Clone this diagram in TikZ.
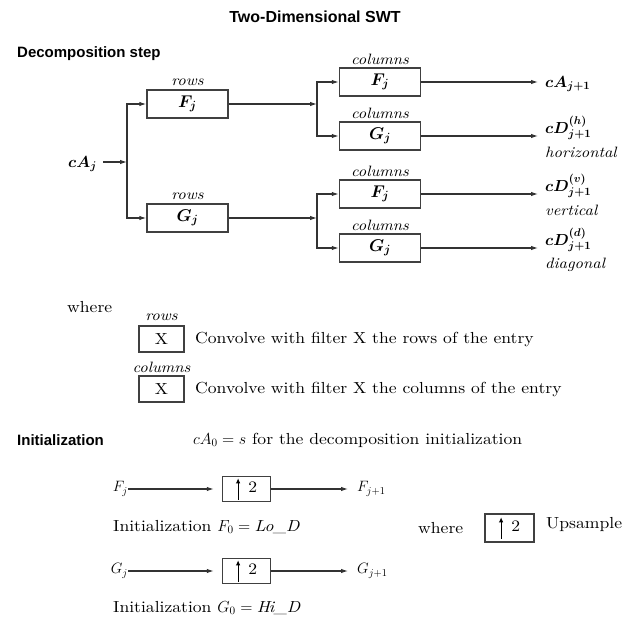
\RequirePackage{fix-cm}
\documentclass[tikz,border=0pt]{standalone}
\usepackage{amsmath,amssymb}
\usepackage{fontspec}
\setmainfont{lmroman10-regular.otf}[
    ItalicFont = lmroman10-italic.otf,
    BoldFont = lmroman10-bold.otf,
    FakeStretch = 1.1]
\newfontfamily\headfont{Liberation Sans}
\usepackage{tikz}
\usetikzlibrary{arrows.meta,positioning}

\newcommand{\upsam}{\tikz[baseline=0pt] \draw[-{Latex[length=5pt,width=4.5pt]}, line width=1.1pt] (0pt,-7.5pt) -- (0pt,14pt);}

\begin{document}
\begin{tikzpicture}[
    x = 1pt, y = -1pt, % one unit per pixel, y downward
    > = {Latex[length=7pt, width=4.5pt]}, % arrow head style
    font = \fontsize{16}{19}\selectfont,
    inner sep = 0pt
]
\tikzstyle{filt}=[
    draw = black!75,
    line width = 1.5pt,
    minimum width = 81pt,
    minimum height = 28pt,
    font = \fontsize{17}{20}\selectfont\boldmath
]
\tikzstyle{xbox}=[draw = black!75, line width = 1.5pt, minimum width = 45pt, minimum height = 26pt]
\tikzstyle{upbox}=[draw = black!75, line width = 1.5pt, minimum width = 48pt, minimum height = 25pt]
\tikzstyle{lab}=[font = \fontsize{15}{18}\selectfont\itshape]
\tikzstyle{head}=[anchor = west, font = \fontsize{15}{18}\selectfont\headfont\bfseries]
\tikzstyle{outlab}=[anchor = base west, font = \fontsize{16}{19}\selectfont\boldmath]
\tikzstyle{wire}=[->, draw = black!80, line width = 1.1pt]

\useasboundingbox (0,0) rectangle (632,627);

\node[head, anchor=center, font=\fontsize{16}{19}\selectfont\headfont\bfseries] (title) at (315,17) {Two-Dimensional SWT};
\node[head] (dec) at (17,54) {Decomposition step};

% rows
\node[filt] (rf) at (187.5,104) {$F_j$};
\node[filt] (rg) at (187.5,218) {$G_j$};
\node[lab, above=3pt of rf] (rf-lab) {rows};
\node[lab, above=3pt of rg] (rg-lab) {rows};

% columns
\node[filt] (ff) at (380,82) {$F_j$};
\node[filt] (fg) at (380,136) {$G_j$};
\node[filt] (gf) at (380,194) {$F_j$};
\node[filt] (gg) at (380,248) {$G_j$};
\foreach \n in {ff,fg,gf,gg}
    \node[lab, above=2pt of \n] (\n-lab) {columns};

% input and splits
\node[outlab, anchor=base east] (ca) at (97,167) {$cA_j$};
\coordinate (s1) at (127,162);
\coordinate (s2) at (317,104);
\coordinate (s3) at (317,218);

\draw[wire, shorten <=6pt] (ca.east |- s1) -- (s1);
\draw[wire] (s1) |- (rf);
\draw[wire] (s1) |- (rg);
\draw[wire] (rf) -- (s2);
\draw[wire] (rg) -- (s3);
\draw[wire] (s2) |- (ff);
\draw[wire] (s2) |- (fg);
\draw[wire] (s3) |- (gf);
\draw[wire] (s3) |- (gg);

% outputs
\node[outlab] (oa) at (545,87) {$cA_{j+1}$};
\node[outlab] (oh) at (545,133) {$cD_{j+1}^{(h)}$};
\node[lab, anchor=base west] (oh-lab) at (545,157) {horizontal};
\node[outlab] (ov) at (545,191) {$cD_{j+1}^{(v)}$};
\node[lab, anchor=base west] (ov-lab) at (545,215) {vertical};
\node[outlab] (od) at (545,245) {$cD_{j+1}^{(d)}$};
\node[lab, anchor=base west] (od-lab) at (545,268) {diagonal};

\draw[wire, shorten >=7pt] (ff) -- (ff -| oa.west);
\draw[wire, shorten >=7pt] (fg) -- (fg -| oh.west);
\draw[wire, shorten >=7pt] (gf) -- (gf -| ov.west);
\draw[wire, shorten >=7pt] (gg) -- (gg -| od.west);

% legend
\node[anchor=west] (wh) at (67,307) {where};
\node[xbox] (xr) at (161.5,339) {X};
\node[lab, above=4pt of xr] (xr-lab) {rows};
\node[anchor=west] (xr-txt) at (195,339) {Convolve with filter X the rows of the entry};
\node[xbox] (xc) at (161.5,389) {X};
\node[lab, above=2pt of xc] (xc-lab) {columns};
\node[anchor=west] (xc-txt) at (195,389) {Convolve with filter X the columns of the entry};

% initialization
\node[head] (ini) at (17,440) {Initialization};
\node[anchor=west] (ini-txt) at (193,440) {$cA_0 = s$ for the decomposition initialization};

\node[anchor=east, font=\fontsize{15}{18}\selectfont] (fj) at (128,489) {$F_j$};
\node[upbox] (uf) at (246.5,489) {\upsam\hspace{8pt}2};
\node[anchor=west, font=\fontsize{15}{18}\selectfont] (fj1) at (357,489) {$F_{j+1}$};
\draw[wire, shorten >=8pt] (fj.east |- uf) -- (uf);
\draw[wire, shorten >=9pt] (uf) -- (uf -| fj1.west);
\node[anchor=west] (ini-f) at (113,527) {Initialization $F_0 = \mathit{Lo\_D}$};

\node[anchor=east, font=\fontsize{15}{18}\selectfont] (gj) at (128,571) {$G_j$};
\node[upbox] (ug) at (246.5,571) {\upsam\hspace{8pt}2};
\node[anchor=west, font=\fontsize{15}{18}\selectfont] (gj1) at (357,571) {$G_{j+1}$};
\draw[wire, shorten >=8pt] (gj.east |- ug) -- (ug);
\draw[wire, shorten >=9pt] (ug) -- (ug -| gj1.west);
\node[anchor=west] (ini-g) at (113,608) {Initialization $G_0 = \mathit{Hi\_D}$};

\node[anchor=west] (wh2) at (418,528) {where};
\node[upbox, minimum width=49pt, minimum height=28pt] (us) at (509.5,528) {\upsam\hspace{8pt}2};
\node[anchor=west] (us-txt) at (546,524) {Upsample};

\end{tikzpicture}
\end{document}
